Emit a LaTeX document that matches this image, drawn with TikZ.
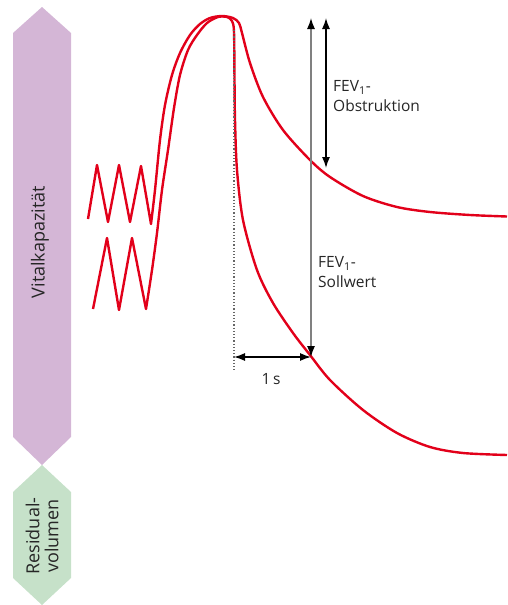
\documentclass[tikz,border=0pt]{standalone}
\usepackage{fontspec}
\setmainfont{Open Sans}
\usetikzlibrary{arrows.meta}
\definecolor{kurvenrot}{HTML}{E2001A}
\definecolor{vkviolett}{HTML}{D4B6D6}
\definecolor{rvgruen}{HTML}{C6E1C9}

\begin{document}
\begin{tikzpicture}[x=1pt, y=-1pt,
		kurve/.style={color=kurvenrot, line width=2.4pt, line join=round},
		pfeil/.style={line width=1.3pt, {Latex[color=black,length=11pt,width=8pt]}-{Latex[color=black,length=11pt,width=8pt]}},
		beschr/.style={font=\fontsize{15.5}{20}\selectfont, text=black!85, align=left, inner sep=0pt, anchor=west},
		seite/.style={font=\fontsize{18}{19}\selectfont, text=black!85, align=center, inner sep=0pt, rotate=90}]
		\useasboundingbox (0,0) rectangle (507,605);
		\fill[vkviolett] (42,7) -- (71,33) -- (71,437) -- (42,465) -- (13,437) -- (13,33) -- cycle;
		\fill[rvgruen] (42,465) -- (71,492) -- (71,578) -- (42,605) -- (13,578) -- (13,492) -- cycle;
		\node[seite] (vk) at (40,242) {Vitalkapazität};
		\node[seite] (rv) at (42,536) {Residual-\\volumen};
		\draw[kurve] (88,219) -- (97,165) -- (108,222) -- (119,165) -- (130,222) -- (141,166) -- (151,224)
			-- plot[smooth] coordinates {(151,224) (155,190) (160,140) (165,105) (172,75) (180,53) (190,35) (200,24) (210,18) (222,16) (233,18) (239,23) (242,33) (250,63) (263,97) (283,130) (310,160) (330,177) (363,196) (397,207) (430,212) (470,215) (507,216.5)};
		\draw[kurve] (93,309) -- (107,238) -- (119,310) -- (132,238) -- (146,309)
			-- plot[smooth] coordinates {(146,309) (152,270) (157,233) (162,190) (168,150) (174,108) (180,75) (188,50) (197,35) (207,23) (218,17) (227,17) (232,21) (234,32) (234.5,80) (235,120) (237,170) (243,220) (257,270) (273,303) (293,333) (310,355) (330,380) (363,410) (397,433) (430,447) (463,453) (507,455)};
		\coordinate (nullpunkt) at (234,357);
		\coordinate (nulloben) at (234,30);
		\coordinate (nullunten) at (234,372);
		\coordinate (sollOben) at (311,18);
		\coordinate (sollUnten) at (311,357);
		\coordinate (obsOben) at (326,18);
		\coordinate (obsUnten) at (326,168);
		\draw[gray!80!black, line width=1.2pt, dotted] (nulloben) -- (nullunten);
		\draw[pfeil, color=gray] (sollOben) -- (sollUnten);
		\draw[pfeil] (obsOben) -- (obsUnten);
		\draw[pfeil] (nullpunkt) -- (sollUnten);
		\node[beschr] (obs) at (333,96) {FEV\textsubscript{1}-\\Obstruktion};
		\node[beschr] (soll) at (318,272) {FEV\textsubscript{1}-\\Sollwert};
		\node[inner sep=0pt, text=black!85, font=\fontsize{15.5}{18}\selectfont] (sek) at (271,379) {1\,s};
	\end{tikzpicture}
\end{document}
